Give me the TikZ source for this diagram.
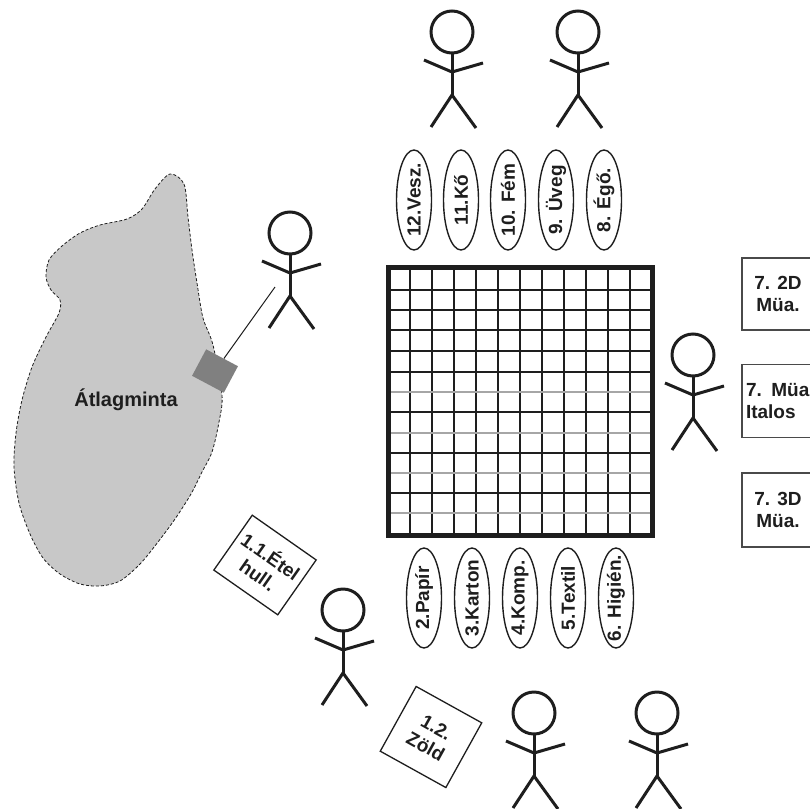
\documentclass[tikz,border=0pt]{standalone}
\usepackage{fontspec}
\setmainfont{Liberation Sans}
\usetikzlibrary{shapes.geometric}

\definecolor{tinta}{HTML}{1E1E1E}
\definecolor{foltszurke}{HTML}{C8C8C8}
\definecolor{mintaszurke}{HTML}{808080}
\definecolor{keret}{HTML}{4A4A4A}

\tikzset{
  emb/.style={line width=3pt, draw=tinta},
  ember/.pic={
    \draw[emb] (0,0) circle[radius=21];
    \draw[emb] (0,21) -- (0,63);
    \draw[emb] (-28,28) -- (0,40) -- (31,31);
    \draw[emb] (-21,95) -- (0,63) -- (24,96);
  },
  felirat/.style={text=tinta, font=\bfseries\fontsize{19}{22}\selectfont},
  frakcio/.style={felirat, draw=tinta, line width=1.4pt, ellipse, rotate=90,
    inner sep=0pt, minimum width=100, minimum height=35},
  doboz/.style={felirat, draw=keret, line width=1.6pt, rectangle, align=center},
  racs/.style={draw=tinta, line width=1.4pt},
  racshalvany/.style={draw=gray!70, line width=1.2pt}
}

\begin{document}
\begin{tikzpicture}[x=1pt, y=-1pt]
  \useasboundingbox (0,0) rectangle (810,808);

  % the sampled area
  \draw[fill=foltszurke, draw=tinta, densely dashed, line width=0.8pt]
    plot[smooth cycle] coordinates {
      (170,174) (184,184) (188,217) (192,250) (197,283) (203,318) (213,345)
      (222,395) (219,422) (212,452) (202,472) (191,494) (175,519) (158,542)
      (140,564) (120,581) (100,586) (80,584) (60,574) (43,558) (30,534)
      (19,503) (14,467) (16,433) (22,400) (32,367) (46,337) (59,313)
      (60,300) (51,290) (46,277) (49,260) (62,246) (80,233) (100,225)
      (127,219) (142,209) (155,189)};
  \node[felirat, font=\bfseries\fontsize{20}{22}\selectfont] (atlag) at (126,400) {Átlagminta};
  \node[fill=mintaszurke, rotate=-28, minimum width=36, minimum height=30,
    inner sep=0pt] (minta) at (215,371) {};
  \coordinate (vonalveg) at (275,287);
  \draw[tinta, line width=1pt] (minta) -- (vonalveg);

  % sorting table
  \foreach \i in {1,...,11}
    \draw[racs] ({388+\i*22},267) -- ({388+\i*22},535);
  \foreach \y in {290,310,330,351,372,412,453,493}
    \draw[racs] (388,\y) -- (652,\y);
  \foreach \y in {392,433,473,513}
    \draw[racshalvany] (388,\y) -- (652,\y);
  \draw[tinta, line width=5pt] (388,267) rectangle (652,535);

  % fractions, top row
  \node[frakcio] (f12) at (414,200) {\makebox[0pt]{12.Vesz.}};
  \node[frakcio] (f11) at (461,200) {\makebox[0pt]{11.Kő}};
  \node[frakcio] (f10) at (508,200) {\makebox[0pt]{10. Fém}};
  \node[frakcio] (f9) at (556,200) {\makebox[0pt]{9. Üveg}};
  \node[frakcio] (f8) at (604,200) {\makebox[0pt]{8. Égő.}};

  % fractions, bottom row
  \node[frakcio] (f2) at (424,598) {\makebox[0pt]{2.Papír}};
  \node[frakcio] (f3) at (472,598) {\makebox[0pt]{3.Karton}};
  \node[frakcio] (f4) at (520,598) {\makebox[0pt]{4.Komp.}};
  \node[frakcio] (f5) at (568,598) {\makebox[0pt]{5.Textil}};
  \node[frakcio] (f6) at (616,598) {\makebox[0pt]{6. Higién.}};

  % plastics on the right
  \node[doboz, minimum width=72, minimum height=72] (m2d) at (778,294) {7. 2D\\Müa.};
  \node[doboz, align=left, text width=64, inner xsep=4pt, minimum height=73]
    (mital) at (778,401) {7. Müa\\Italos};
  \node[doboz, minimum width=72, minimum height=74] (m3d) at (778,510) {7. 3D\\Müa.};

  % boxes on the ground
  \node[doboz, draw=tinta, line width=1.3pt, rotate=-35, minimum width=78,
    minimum height=67] (etel) at (265,565) {1.1.Étel\\hull.};
  \node[doboz, draw=tinta, line width=1.3pt, rotate=-29, minimum width=75,
    minimum height=74] (zold) at (431,737) {1.2.\\Zöld};

  % people
  \pic at (452,32) {ember};
  \pic at (578,32) {ember};
  \pic at (290,233) {ember};
  \pic at (693,355) {ember};
  \pic at (343,610) {ember};
  \pic at (534,713) {ember};
  \pic at (657,713) {ember};
\end{tikzpicture}
\end{document}
